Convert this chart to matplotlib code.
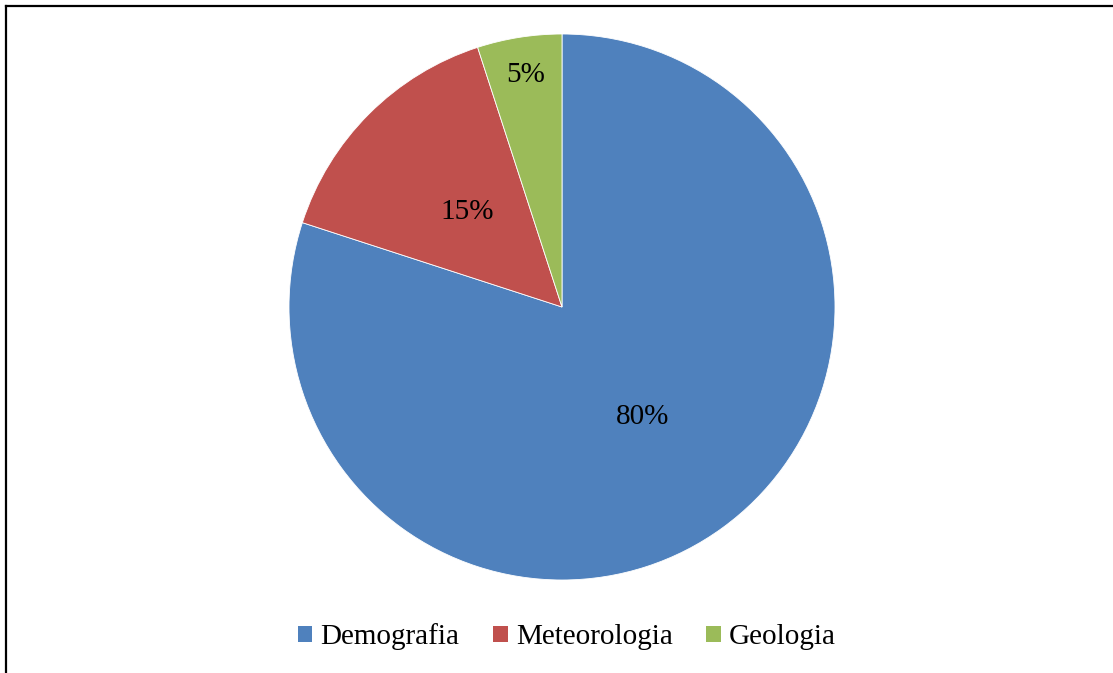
import numpy as np
import matplotlib.pyplot as plt
from matplotlib.lines import Line2D
from matplotlib.patches import Patch

plt.rcParams['font.family'] = ['Liberation Serif', 'DejaVu Serif']

# Data
categories = ['Demografia', 'Meteorologia', 'Geologia']
shares = [80, 15, 5]
colors = ['#4F81BD', '#C0504D', '#9BBB59']
label_radius = [0.50, 0.49, 0.86]

W, H = 1113, 673
fig = plt.figure(figsize=(W / 100, H / 100), dpi=100)

# pie axes: centre (562, 307), radius 273 px
cx, cy, r = 562, 307, 273
ax = fig.add_axes([(cx - r) / W, (H - cy - r) / H, 2 * r / W, 2 * r / H])
wedges, _ = ax.pie(shares, colors=colors, startangle=90, counterclock=False,
                   radius=1, wedgeprops=dict(edgecolor='white', linewidth=0.6))
ax.set_xlim(-1, 1)
ax.set_ylim(-1, 1)
ax.set_aspect('equal')
ax.axis('off')

for w, v, lr in zip(wedges, shares, label_radius):
    ang = np.deg2rad((w.theta1 + w.theta2) / 2)
    ax.text(lr * np.cos(ang), lr * np.sin(ang), f'{v}%', ha='center', va='center',
            fontsize=21)

handles = [Patch(facecolor=c, edgecolor='none') for c in colors]
fig.legend(handles, categories, loc='center', bbox_to_anchor=(567 / W, 1 - 637 / H),
           ncol=3, frameon=False, fontsize=21, handlelength=0.5, handleheight=0.5,
           handletextpad=0.28, columnspacing=1.15, borderpad=0)

# frame lines (only top and left visible)
fig.add_artist(Line2D([6 / W, 1], [1 - 6 / H, 1 - 6 / H], color='black', lw=1.6,
                      transform=fig.transFigure))
fig.add_artist(Line2D([6 / W, 6 / W], [0, 1 - 6 / H], color='black', lw=1.6,
                      transform=fig.transFigure))

fig.savefig('out.png', dpi=100)
